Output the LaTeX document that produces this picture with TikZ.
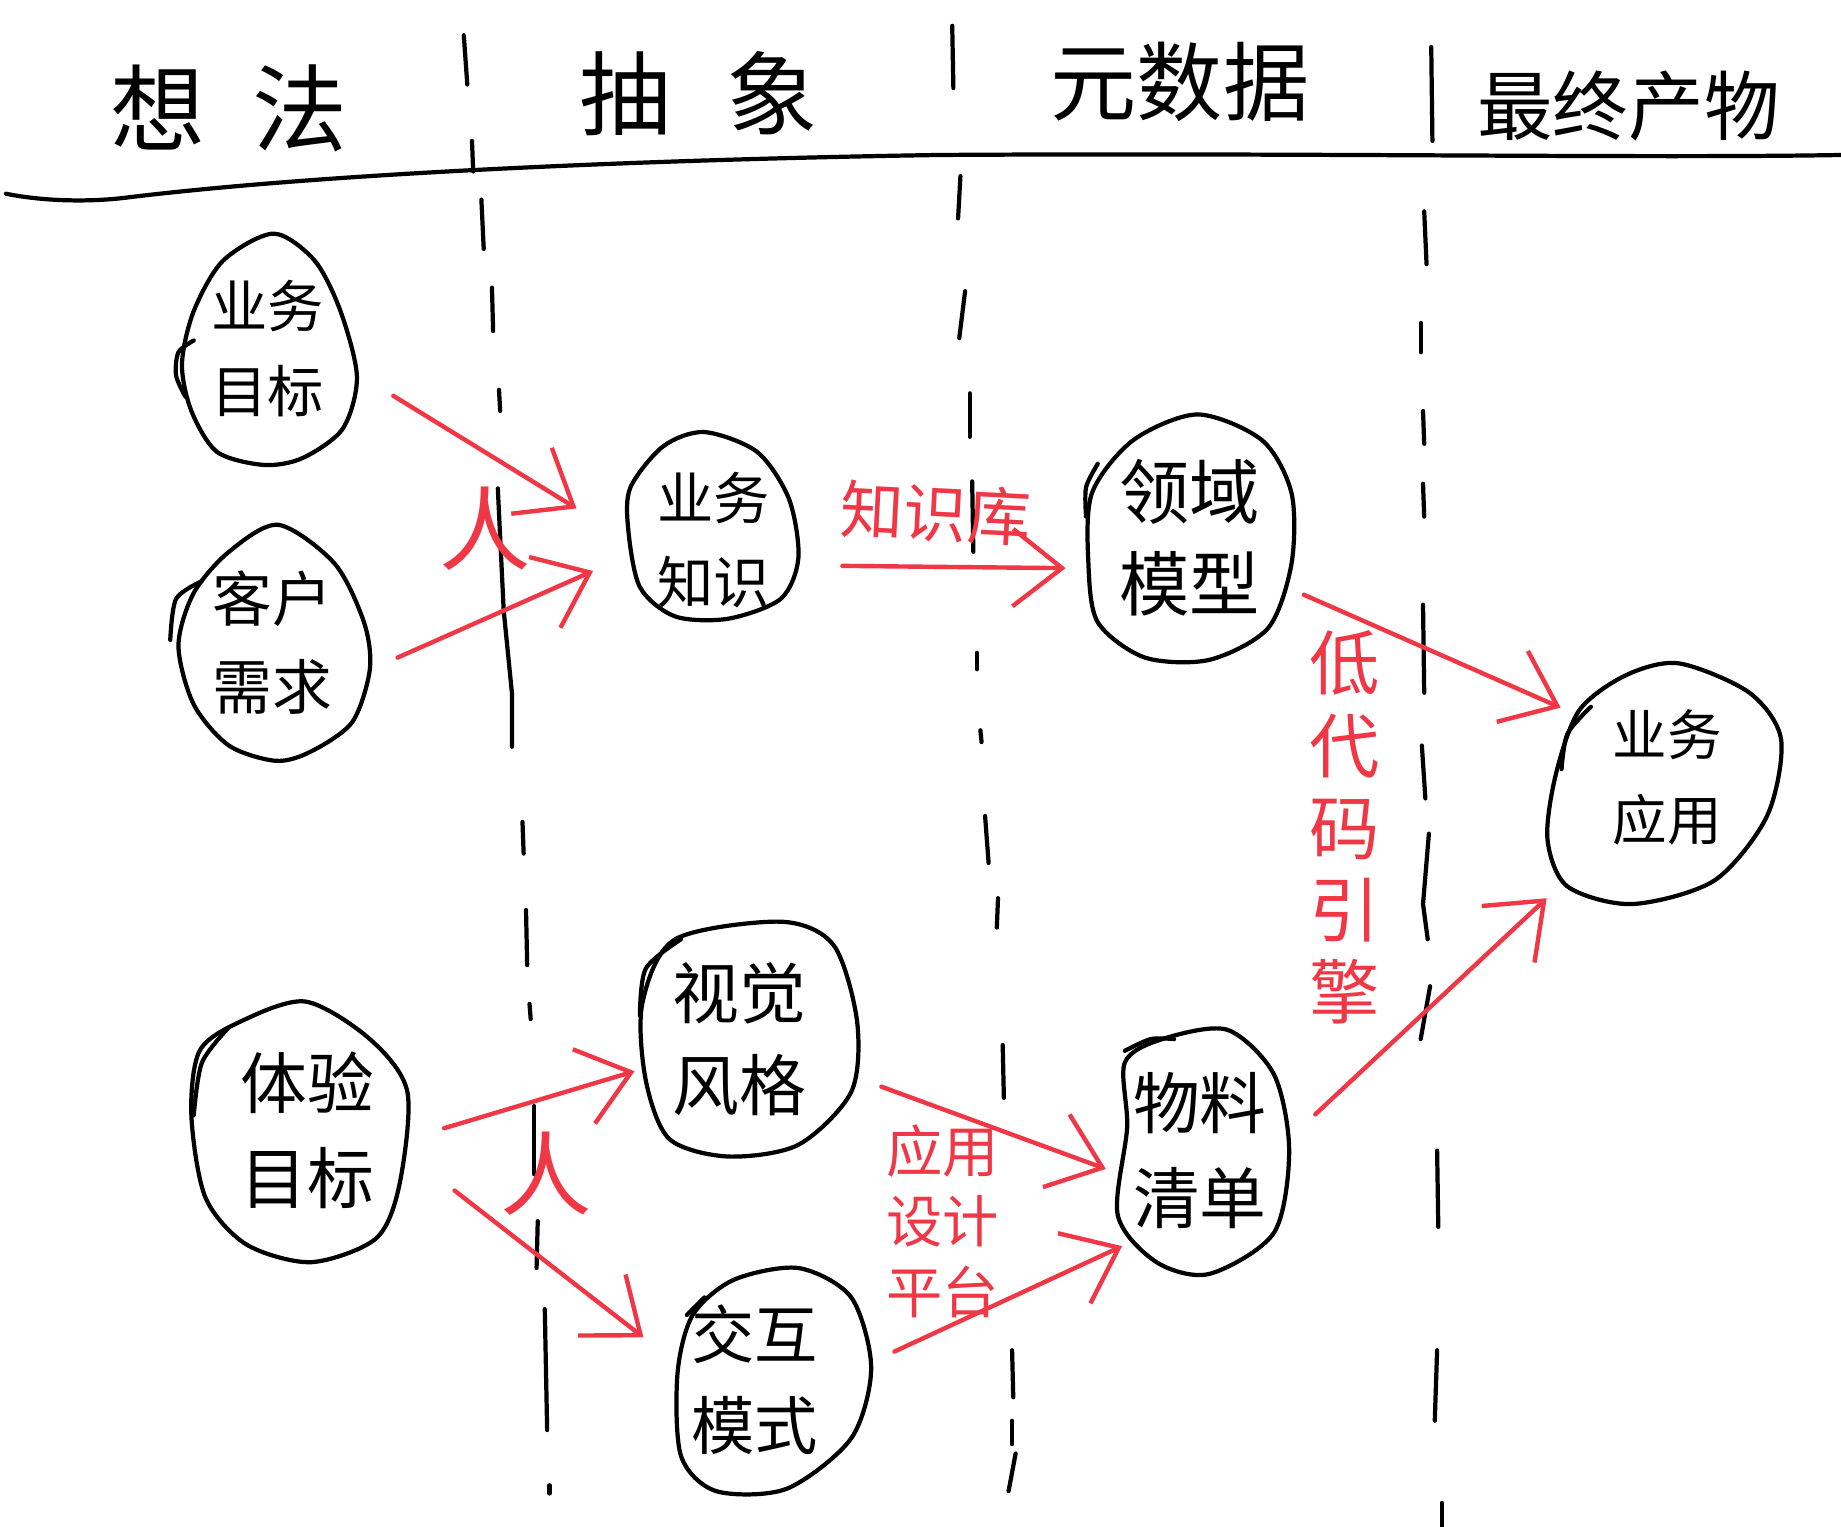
\documentclass[tikz,border=0pt]{standalone}
\usepackage{fontspec}
\setmainfont{Noto Sans CJK SC}
\usetikzlibrary{shapes.geometric,arrows.meta}
\definecolor{penred}{RGB}{240,55,70}
\tikzset{
  pen/.style={line width=1.2pt,line cap=round,line join=round,black},
  blob/.style 2 args={ellipse,inner sep=0pt,align=center,
    minimum width=#1*0.01174cm,minimum height=#2*0.01174cm},
  redarrow/.style={line width=1.25pt,line cap=round,penred,-{Straight Barb[length=14pt,width=22pt,line width=1.25pt]}},
  redtext/.style={text=penred,align=center,inner sep=0pt},
  headtext/.style={inner sep=0pt}
}
\begin{document}
\begin{tikzpicture}[x=0.01174cm,y=-0.01174cm]
   \useasboundingbox (0,0) rectangle (1568,1300);
   % heading
   \node[headtext,font=\fontsize{27}{30}\selectfont] (xf) at (195,92) {想\hspace{0.5em}法};
   \node[headtext,font=\fontsize{26}{30}\selectfont] (cx) at (595,80) {抽\hspace{0.6em}象};
   \node[headtext,font=\fontsize{24.5}{28}\selectfont] (ysj) at (1005,70) {元数据};
   \node[headtext,font=\fontsize{21.5}{26}\selectfont] (zzcw) at (1387,90) {最终产物};
   \draw[pen] (5,165) .. controls (40,172) and (80,172) .. (110,168) .. controls (300,145) and (600,135) .. (800,132) .. controls (1100,130) and (1400,135) .. (1568,132);
   % separators
   \foreach \xa/\ya/\xb/\yb in {395/30/398/72,402/120/403/146,410/170/412/212,419/245/420/282,425/332/426/350,
     445/700/446/727,448/775/449/822,451/855/452/868,455/942/455/1000,458/1040/457/1080,468/1265/468/1272,
     811/22/812/75,818/150/816/186,822/248/817/288,826/335/826/372,828/410/829/470,832/556/832/570,835/622/836/632,
     839/695/842/735,850/765/849/790,854/890/855/935,862/1150/863/1190,862/1210/862/1230,865/1238/859/1270,
     1219/40/1220/120,1213/180/1215/225,1210/275/1210/300,1212/350/1213/378,1212/412/1213/440,1212/515/1213/590,
     1211/635/1214/680,1224/980/1225/1045,1224/1150/1222/1210,1228/1280/1228/1300}
     \draw[pen] (\xa,\ya) -- (\xb,\yb);
   \draw[pen] (424,416) -- (429,520) -- (436,590) -- (436,636);
   \draw[pen] (464,1115) -- (466,1218);
   \draw[pen] (1217,710) -- (1212,770) -- (1216,800);
   \draw[pen] (1218,840) -- (1210,885);
   % blobs
   \node[blob={150}{197},font=\fontsize{16}{24}\selectfont] (ywmb) at (228,297) {业务\\目标};
   \node[blob={165}{200},font=\fontsize{17}{25}\selectfont] (khxq) at (232,547) {客户\\需求};
   \node[blob={145}{160},font=\fontsize{16}{24}\selectfont] (ywzs) at (608,460) {业务\\知识};
   \node[blob={175}{210},font=\fontsize{20}{26}\selectfont] (lymx) at (1013,458) {领域\\模型};
   \node[blob={195}{205},font=\fontsize{15.5}{24}\selectfont] (ywyy) at (1420,662) {业务\\应用};
   \node[blob={185}{222},font=\fontsize{19}{27}\selectfont] (tymb) at (262,963) {体验\\目标};
   \node[blob={185}{200},font=\fontsize{19}{26}\selectfont] (sjfg) at (630,885) {视觉\\风格};
   \node[blob={165}{190},font=\fontsize{18}{26}\selectfont] (jhms) at (643,1175) {交互\\模式};
   \node[blob={145}{208},font=\fontsize{19}{27}\selectfont] (wlqd) at (1022,980) {物料\\清单};
   \draw[pen] plot[smooth cycle] coordinates {(233,199) (268,222) (290,265) (304,321) (292,365) (258,390) (225,396) (185,385) (163,350) (155,310) (165,265) (190,222)};
   \draw[pen] plot[smooth] coordinates {(165,290) (152,300) (150,320) (158,338)};
   \draw[pen] plot[smooth cycle] coordinates {(237,447) (285,480) (310,530) (315,570) (300,615) (265,640) (235,648) (195,635) (165,600) (152,550) (165,505) (195,470)};
   \draw[pen] plot[smooth] coordinates {(172,495) (150,510) (145,545)};
   \draw[pen] plot[smooth cycle] coordinates {(600,368) (645,385) (672,425) (680,475) (665,510) (620,527) (575,525) (545,500) (535,450) (537,415) (565,380)};
   \draw[pen] plot[smooth cycle] coordinates {(1020,353) (1075,375) (1100,420) (1100,480) (1080,535) (1030,562) (975,560) (935,530) (927,480) (930,420) (965,375)};
   \draw[pen] plot[smooth] coordinates {(935,395) (925,415) (925,440)};
   \draw[pen] plot[smooth cycle] coordinates {(1430,565) (1490,590) (1517,630) (1505,695) (1460,750) (1390,770) (1335,755) (1318,715) (1325,660) (1345,605) (1385,575)};
   \draw[pen] plot[smooth] coordinates {(1355,602) (1335,625) (1330,655)};
   \draw[pen] plot[smooth cycle] coordinates {(260,853) (315,885) (347,930) (340,1010) (320,1055) (265,1075) (210,1060) (175,1020) (163,950) (170,895) (205,870)};
   \draw[pen] plot[smooth] coordinates {(195,875) (172,905) (165,950)};
   \draw[pen] plot[smooth cycle] coordinates {(665,785) (710,805) (730,870) (725,930) (680,975) (620,985) (570,970) (550,920) (547,855) (575,800)};
   \draw[pen] plot[smooth] coordinates {(580,800) (550,825) (545,865)};
   \draw[pen] plot[smooth cycle] coordinates {(680,1080) (725,1105) (742,1165) (725,1225) (670,1268) (610,1270) (580,1240) (577,1170) (590,1120) (625,1090)};
   \draw[pen] (600,1105) -- (585,1120);
   \draw[pen] plot[smooth cycle] coordinates {(1045,877) (1085,915) (1098,980) (1085,1050) (1030,1085) (985,1075) (952,1035) (960,960) (958,905) (990,885)};
   \draw[pen] plot[smooth] coordinates {(958,895) (980,885) (1000,885)};
   % arrows
   \draw[redarrow,shorten <=12.9pt,shorten >=17.2pt] (ywmb.-15) -- (ywzs.180);
   \draw[redarrow,shorten <=9.5pt,shorten >=11.2pt] (khxq.-17) -- (ywzs.190);
   \draw[redarrow,shorten <=13pt,shorten >=6.7pt] (ywzs.-17) -- (lymx.197);
   \draw[redarrow,shorten <=6pt,shorten >=3pt] (lymx.-27) -- (ywyy.146);
   \draw[redarrow,shorten <=8.2pt,shorten >=15pt] (wlqd.10) -- (ywyy.226);
   \draw[redarrow,shorten <=8.1pt,shorten >=0pt] (tymb.-3) -- (sjfg.197);
   \draw[redarrow,shorten <=14.5pt,shorten >=6.2pt] (tymb.-15) -- (jhms.163);
   \draw[redarrow,shorten <=11.2pt,shorten >=0pt] (sjfg.-18) -- (wlqd.191);
   \draw[redarrow,shorten <=13.2pt,shorten >=4pt] (jhms.5) -- (wlqd.234);
   % red labels
   \node[redtext,font=\fontsize{26}{28}\selectfont] (ren1) at (413,450) {人};
   \node[redtext,font=\fontsize{26}{28}\selectfont] (ren2) at (465,1000) {人};
   \node[redtext,font=\fontsize{18}{20}\selectfont,rotate=-3] (zsk) at (797,437) {知识库};
   \node[redtext,font=\fontsize{20}{23.4}\selectfont] (dmyq) at (1145,705) {低\\代\\码\\引\\擎};
   \node[redtext,font=\fontsize{16}{20}\selectfont] (yysj) at (803,1040) {应用\\设计\\平台};
\end{tikzpicture}
\end{document}
